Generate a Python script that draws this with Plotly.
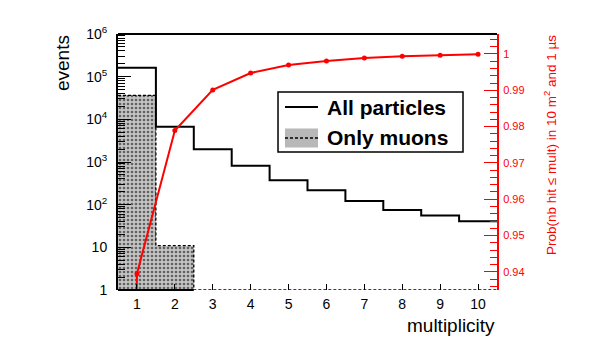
import plotly.graph_objects as go

# ---- data ----
multiplicity = [1, 2, 3, 4, 5, 6, 7, 8, 9, 10]
all_particles = [162000, 6720, 1980, 819, 372, 217, 122, 75, 56, 41]
only_muons = [36500, 11, 0, 0, 0, 0, 0, 0, 0, 0]

prob_mult = [0, 1, 2, 3, 4, 5, 6, 7, 8, 9, 10]
prob_values = [0.0, 0.9395, 0.9789, 0.9901, 0.99476, 0.99697,
               0.99807, 0.9989, 0.99937, 0.99964, 0.99992]

left_tick_vals = [1, 10, 100, 1000, 10000, 100000, 1000000]
left_tick_text = ["1", "10", "10<sup>2</sup>", "10<sup>3</sup>",
                  "10<sup>4</sup>", "10<sup>5</sup>", "10<sup>6</sup>"]
right_tick_vals = [0.94, 0.95, 0.96, 0.97, 0.98, 0.99, 1.0]
right_tick_text = ["0.94", "0.95", "0.96", "0.97", "0.98", "0.99", "1"]

legend_labels = ["All particles", "Only muons"]

FONT = "Liberation Sans, Arial, Helvetica, sans-serif"

# ---- derived step outlines ----
edges = [m - 0.5 for m in multiplicity] + [multiplicity[-1] + 0.5]
all_step = all_particles + [all_particles[-1]]
muon_clip = [max(v, 1) for v in only_muons]
muon_step = muon_clip + [muon_clip[-1]]
muon_filled = [m for m, v in zip(multiplicity, only_muons) if v > 0]

minor_log = [k * 10 ** d for d in range(0, 6) for k in range(2, 10)]

fig = go.Figure()

fig.add_trace(go.Bar(
    x=multiplicity, y=only_muons, width=1,
    name=legend_labels[1], showlegend=False,
    marker=dict(color="#c4c4c4", line=dict(width=0),
                pattern=dict(shape=".", fgcolor="black", bgcolor="#c4c4c4",
                             size=4, solidity=0.35)),
))
fig.add_trace(go.Scatter(
    x=edges, y=muon_step, mode="lines", line_shape="hv",
    line=dict(color="black", width=1.3, dash="3px,2px"),
    showlegend=False, hoverinfo="skip",
))
fig.add_trace(go.Scatter(
    x=edges, y=all_step, mode="lines", line_shape="hv",
    line=dict(color="black", width=2),
    name=legend_labels[0], showlegend=False,
))
fig.add_trace(go.Scatter(
    x=prob_mult, y=prob_values, yaxis="y2", mode="lines+markers",
    line=dict(color="red", width=2), marker=dict(color="red", size=5),
    showlegend=False,
))

# legend box (paper coordinates of the plot area)
LX0, LX1, LY0, LY1 = 0.4222, 0.9103, 0.5391, 0.7734
SX0, SX1 = 0.4406, 0.5277
ROW1, ROW2 = 0.7148, 0.5938
TX = 0.5462

shapes = [
    dict(type="line", xref="paper", yref="paper", x0=0, x1=1, y0=1, y1=1,
         line=dict(color="black", width=2)),
    dict(type="line", xref="x", yref="paper",
         x0=min(muon_filled) - 0.5, x1=max(muon_filled) + 0.5, y0=0, y1=0,
         line=dict(color="black", width=2)),
    dict(type="rect", xref="paper", yref="paper",
         x0=LX0, x1=LX1, y0=LY0, y1=LY1,
         fillcolor="white", line=dict(color="black", width=1.5)),
    dict(type="line", xref="paper", yref="paper",
         x0=SX0, x1=SX1, y0=ROW1, y1=ROW1,
         line=dict(color="black", width=2)),
    dict(type="rect", xref="paper", yref="paper",
         x0=SX0, x1=SX1, y0=ROW2 - 0.037, y1=ROW2 + 0.037,
         fillcolor="#b8b8b8", line=dict(width=0)),
    dict(type="line", xref="paper", yref="paper",
         x0=SX0, x1=SX1, y0=ROW2, y1=ROW2,
         line=dict(color="black", width=1.3, dash="3px,2px")),
]

fig.update_layout(
    width=593, height=341,
    margin=dict(l=118, r=96, t=34, b=51),
    paper_bgcolor="white", plot_bgcolor="white",
    font=dict(family=FONT, color="black", size=14),
    bargap=0,
    showlegend=False,
    xaxis=dict(
        range=[0.5, 10.5], tickvals=multiplicity,
        ticks="inside", ticklen=6, tickwidth=1, tickcolor="black",
        showline=False, showgrid=False, zeroline=False,
        tickfont=dict(size=14), ticklabelstandoff=4,
    ),
    yaxis=dict(
        type="log", range=[0, 6],
        tickvals=left_tick_vals, ticktext=left_tick_text,
        ticks="inside", ticklen=13, tickwidth=1, tickcolor="black",
        minor=dict(ticks="inside", ticklen=7, tickvals=minor_log,
                   tickcolor="black", tickwidth=1, showgrid=False),
        showline=True, linewidth=2, linecolor="black",
        showgrid=False, zeroline=False, tickfont=dict(size=14),
        ticklabelstandoff=6,
    ),
    yaxis2=dict(
        overlaying="y", side="right", range=[0.935, 1.0055],
        tickvals=right_tick_vals, ticktext=right_tick_text,
        ticks="inside", ticklen=13, tickwidth=1, tickcolor="red",
        minor=dict(ticks="inside", ticklen=7, dtick=0.002, tick0=0.94,
                   tickcolor="red", tickwidth=1, showgrid=False),
        showline=True, linewidth=2, linecolor="red",
        showgrid=False, zeroline=False,
        tickfont=dict(size=11, color="red"),
        ticklabelstandoff=2,
    ),
    shapes=shapes,
    annotations=[
        dict(text="events", xref="paper", yref="paper",
             x=-0.145, y=1.004, xanchor="center", yanchor="top",
             textangle=-90, showarrow=False,
             font=dict(size=19, family=FONT, color="black")),
        dict(text="Prob(nb hit \u2264 mult) in 10 m<sup>2</sup> and 1 \u00b5s",
             xref="paper", yref="paper",
             x=1.14, y=1.004, xanchor="center", yanchor="top",
             textangle=-90, showarrow=False,
             font=dict(size=13.5, family=FONT, color="red")),
        dict(text="multiplicity", xref="paper", yref="paper",
             x=1.0, y=-0.137, xanchor="right", yanchor="middle",
             showarrow=False,
             font=dict(size=19, family=FONT, color="black")),
        dict(text="<b>%s</b>" % legend_labels[0], xref="paper", yref="paper",
             x=TX, y=ROW1, xanchor="left", yanchor="middle", showarrow=False,
             font=dict(size=21, family=FONT, color="black")),
        dict(text="<b>%s</b>" % legend_labels[1], xref="paper", yref="paper",
             x=TX, y=ROW2, xanchor="left", yanchor="middle", showarrow=False,
             font=dict(size=21, family=FONT, color="black")),
    ],
)

fig.write_html("out.html",
               config={"displayModeBar": False},
               post_script="document.body.style.margin='0';"
                           "document.body.style.padding='0';")
